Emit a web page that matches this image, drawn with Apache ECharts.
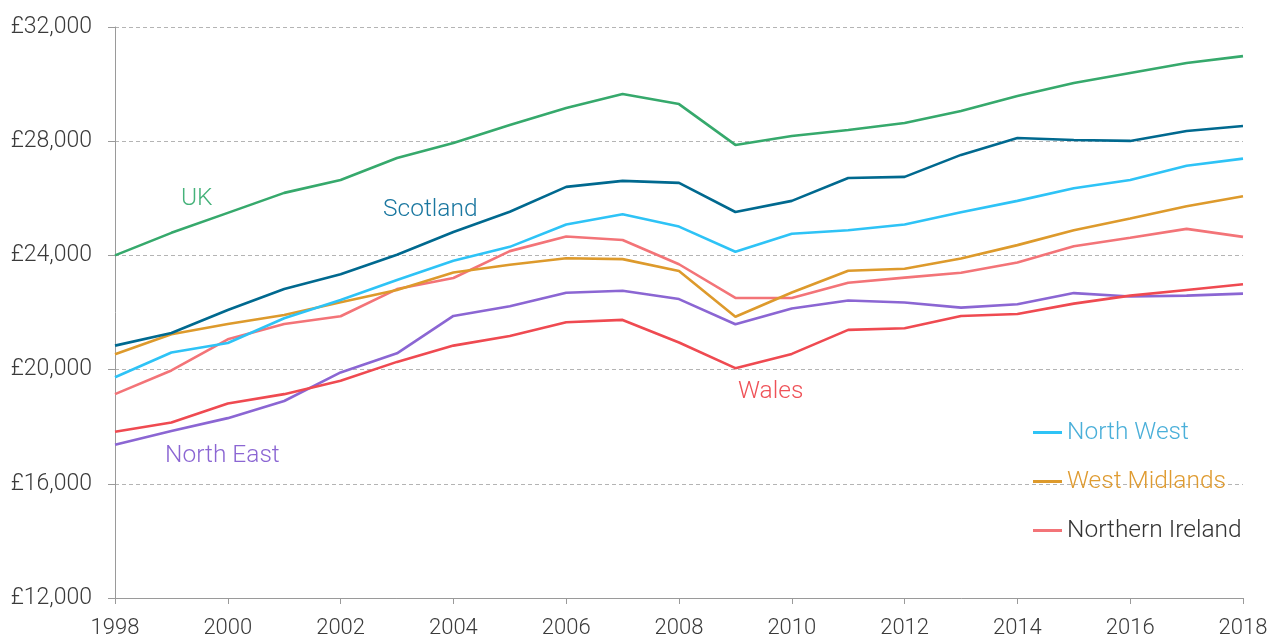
<!DOCTYPE html>
<html>
<head>
<meta charset="utf-8">
<style>
  html, body { margin: 0; padding: 0; background: #fff; }
  #chart { width: 1278px; height: 641px; }
</style>
<script src="https://cdn.jsdelivr.net/npm/echarts@6/dist/echarts.min.js"></script>
</head>
<body>
<div id="chart"></div>
<script>
// Median annual earnings by UK nation / region, 1998–2018 (£)
const years = ['1998','1999','2000','2001','2002','2003','2004','2005','2006','2007','2008',
               '2009','2010','2011','2012','2013','2014','2015','2016','2017','2018'];

const uk              = [24000, 24790, 25490, 26190, 26640, 27410, 27940, 28570, 29160, 29650, 29300,
                         27870, 28180, 28390, 28640, 29060, 29580, 30040, 30390, 30740, 30980];
const scotland        = [20840, 21280, 22090, 22820, 23340, 24020, 24820, 25530, 26400, 26610, 26540,
                         25520, 25910, 26710, 26750, 27520, 28110, 28040, 28010, 28360, 28530];
const northWest       = [19730, 20600, 20930, 21800, 22440, 23140, 23810, 24300, 25080, 25440, 25010,
                         24130, 24760, 24880, 25080, 25510, 25910, 26350, 26640, 27140, 27390];
const westMidlands    = [20540, 21240, 21600, 21910, 22360, 22790, 23400, 23670, 23900, 23870, 23450,
                         21850, 22700, 23460, 23530, 23890, 24360, 24880, 25290, 25720, 26070];
const northernIreland = [19140, 19970, 21060, 21600, 21870, 22820, 23210, 24150, 24660, 24540, 23690,
                         22510, 22510, 23040, 23220, 23390, 23750, 24320, 24620, 24930, 24650];
const northEast       = [17370, 17850, 18300, 18900, 19900, 20570, 21880, 22220, 22690, 22760, 22470,
                         21590, 22140, 22420, 22350, 22170, 22290, 22680, 22560, 22590, 22660];
const wales           = [17820, 18150, 18810, 19140, 19610, 20270, 20840, 21180, 21660, 21740, 20950,
                         20050, 20550, 21390, 21450, 21880, 21950, 22310, 22590, 22790, 22990];

const yMin = 12000, yMax = 32000, yStep = 4000;

const FONT = 'Roboto, "Noto Sans", sans-serif';

const colors = {
  uk: '#36a96c',
  scotland: '#00698f',
  northWest: '#2ec3f6',
  westMidlands: '#dd9a2c',
  northernIreland: '#f37478',
  northEast: '#8b66d3',
  wales: '#ef4a51'
};

function line(name, data, color) {
  return {
    name: name,
    type: 'line',
    data: data,
    symbol: 'none',
    color: color,
    lineStyle: { width: 2.6, color: color },
    emphasis: { disabled: true }
  };
}

const chart = echarts.init(document.getElementById('chart'), null, { renderer: 'canvas' });

chart.setOption({
  animation: false,
  backgroundColor: '#ffffff',
  grid: { left: 115, right: 35, top: 27, bottom: 43, containLabel: false },
  xAxis: {
    type: 'category',
    data: years,
    boundaryGap: false,
    axisLine: { lineStyle: { color: '#9a9a9a', width: 1 } },
    axisTick: { interval: 1, length: 6, lineStyle: { color: '#9a9a9a' } },
    axisLabel: {
      interval: 1,
      margin: 19,
      color: '#3a3a3a',
      fontFamily: FONT,
      fontWeight: 300,
      fontSize: 22
    },
    splitLine: { show: false }
  },
  yAxis: {
    type: 'value',
    min: yMin,
    max: yMax,
    interval: yStep,
    axisLine: { show: true, lineStyle: { color: '#9a9a9a', width: 1 } },
    axisTick: { show: true, length: 7, lineStyle: { color: '#9a9a9a' } },
    axisLabel: {
      margin: 23,
      color: '#3a3a3a',
      fontFamily: FONT,
      fontWeight: 300,
      fontSize: 23,
      formatter: v => '£' + v.toLocaleString('en-GB')
    },
    splitLine: { show: true, lineStyle: { color: '#b4b4b4', type: [4, 3], width: 1 } }
  },
  legend: {
    orient: 'vertical',
    left: 1033,
    top: 420,
    padding: 0,
    itemGap: 24,
    itemWidth: 29,
    itemHeight: 3,
    icon: 'rect',
    textStyle: { fontFamily: FONT, fontWeight: 300, fontSize: 24.5, padding: [0, 0, 0, 0] },
    selectedMode: false,
    data: [
      { name: 'North West', textStyle: { color: '#4aafd9' } },
      { name: 'West Midlands', textStyle: { color: '#df9b30' } },
      { name: 'Northern Ireland', textStyle: { color: '#333333' } }
    ]
  },
  graphic: [
    { type: 'text', left: 181, top: 186, silent: true,
      style: { text: 'UK', fill: '#45b27a', font: '300 24.5px ' + FONT } },
    { type: 'text', left: 383, top: 197, silent: true,
      style: { text: 'Scotland', fill: '#1a77a0', font: '300 24.5px ' + FONT } },
    { type: 'text', left: 165, top: 443, silent: true,
      style: { text: 'North East', fill: '#8b66d3', font: '300 24.5px ' + FONT } },
    { type: 'text', left: 738, top: 379, silent: true,
      style: { text: 'Wales', fill: '#ef5157', font: '300 24.5px ' + FONT } }
  ],
  series: [
    line('North East', northEast, colors.northEast),
    line('Wales', wales, colors.wales),
    line('Northern Ireland', northernIreland, colors.northernIreland),
    line('West Midlands', westMidlands, colors.westMidlands),
    line('North West', northWest, colors.northWest),
    line('Scotland', scotland, colors.scotland),
    line('UK', uk, colors.uk)
  ]
});
</script>
</body>
</html>
